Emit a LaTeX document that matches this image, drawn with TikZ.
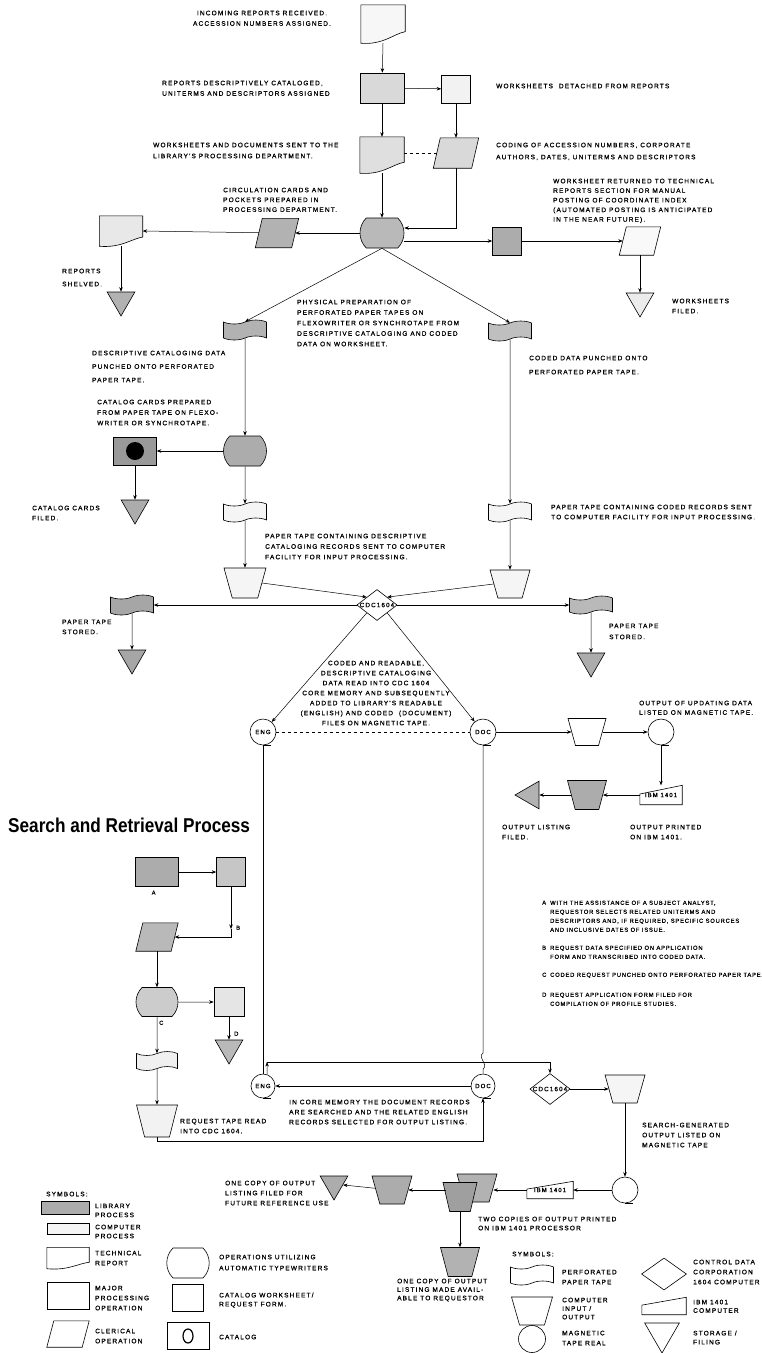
\documentclass[tikz,border=0pt]{standalone}
\usepackage{fontspec}
\newfontfamily\chartfont{Liberation Sans}[LetterSpace=18, FakeBold=0.8]
\newfontfamily\notefont{Liberation Sans}[LetterSpace=14, FakeBold=0.8]
\newfontfamily\headfont{Liberation Sans}[FakeStretch=0.86]
\usetikzlibrary{arrows.meta,calc,shapes.geometric,shapes.symbols,shapes.misc}

\tikzset{
  lbl/.style={font=\chartfont\fontsize{6.5}{#1}\selectfont, align=left, anchor=north west, inner sep=0pt},
  lbl/.default=10.5,
  note/.style={font=\notefont\fontsize{5.8}{9}\selectfont, align=left, anchor=north west, inner sep=0pt},
  block/.style={draw, line width=0.6pt, inner sep=0pt, minimum width=44pt, minimum height=30pt},
  sheet/.style={block, minimum width=29pt, minimum height=28pt},
  typer/.style={block, rounded rectangle, rounded rectangle arc length=90},
  ptape/.style={block, tape, tape bend height=4pt, minimum width=43pt, minimum height=20pt},
  inout/.style={block, inner sep=1pt, trapezium, trapezium left angle=72, trapezium right angle=72, shape border rotate=180, trapezium stretches=true, minimum width=40pt, minimum height=28pt},
  store/.style={draw, line width=0.6pt, regular polygon, regular polygon sides=3, regular polygon rotate=180, minimum size=32pt, inner sep=0pt},
  reel/.style={draw, line width=0.6pt, circle, minimum size=26pt, inner sep=0pt, font=\chartfont\fontsize{6}{6}\selectfont},
  cdc/.style={draw, line width=0.6pt, diamond, aspect=1.3, inner sep=0pt, fill=white, font=\chartfont\fontsize{6.3}{6}\selectfont},
  ghost/.style={inner sep=0pt, minimum width=44pt, minimum height=36pt},
  clerical/.style={ghost, minimum width=37pt, minimum height=30pt},
  ibmbox/.style={ghost, minimum width=42pt, minimum height=19pt, font=\chartfont\fontsize{6}{6}\selectfont},
  flow/.style={line width=0.5pt, -{Stealth[length=4.5pt,width=3.5pt]}},
  link/.style={line width=0.5pt},
}

% outline of a technical report, drawn round a ghost node
\newcommand\docshape[2]{%
  \filldraw[line width=0.6pt, fill=#2] (#1.north west) -- (#1.north east)
    -- ($(#1.south east)!0.3!(#1.north east)$)
    .. controls ($(#1.south)!0.5!(#1.east)$) and ($(#1.south)+(0pt,-2pt)$) .. (#1.south west) -- cycle;}
% clerical operation: parallelogram through the ghost's east and west anchors
\newcommand\clershape[2]{%
  \filldraw[line width=0.6pt, fill=#2] ($(#1.south west)+(-3.5pt,0pt)$) -- ($(#1.south east)+(-3.5pt,0pt)$)
    -- ($(#1.north east)+(3.5pt,0pt)$) -- ($(#1.north west)+(3.5pt,0pt)$) -- cycle;}
% outline of the IBM 1401 symbol
\newcommand\ibmshape[1]{%
  \draw[line width=0.6pt] (#1.south west) -- (#1.south east) -- (#1.north east)
    -- ($(#1.south west)!0.55!(#1.north west)$) -- cycle;}

\begin{document}
\begin{tikzpicture}[x=1pt, y=-1pt]
\fill[white] (0,0) rectangle (762,1353);
\useasboundingbox (0,0) rectangle (762,1353);

% incoming reports
\node[ghost, minimum height=38pt] (rep0) at (383,24) {};
\docshape{rep0}{gray!6}
\node[block, fill=gray!30] (box1) at (382,88) {};
\node[sheet, fill=gray!10] (ws1) at (456,89) {};
\node[ghost] (rep1) at (382,155) {};
\docshape{rep1}{gray!25}
\node[clerical, minimum width=38pt] (para1) at (456,153) {};
\clershape{para1}{gray!30}
\node[typer, fill=gray!55] (hub) at (382,233) {};
\node[clerical, minimum width=36pt, minimum height=29pt] (para2) at (277,233) {};
\clershape{para2}{gray!60}
\node[ghost, minimum width=43pt, minimum height=30pt] (rep2) at (121,231) {};
\docshape{rep2}{gray!18}
\node[store, fill=gray!60] (tri1) at (121,300) {};
\node[sheet, fill=gray!65] (box2) at (507,241) {};
\node[clerical, minimum width=34pt, minimum height=28pt] (para3) at (640,241) {};
\clershape{para3}{gray!5}
\node[store, fill=gray!15] (tri2) at (640,301) {};

% paper tapes and computer input
\node[ptape, fill=gray!60] (tape1) at (245,330) {};
\node[ptape, fill=gray!50] (tape2) at (510,331) {};
\node[typer, fill=gray!65, minimum width=43pt] (cyl1) at (245,451) {};
\node[block, fill=gray!80, minimum width=43pt, minimum height=28pt,
  path picture={\fill[black] (path picture bounding box.center) circle (9pt);}] (cat) at (135,451) {};
\node[store, fill=gray!65] (tri3) at (135,508) {};
\node[ptape, fill=gray!8] (tape3) at (245,512) {};
\node[ptape, fill=gray!8] (tape4) at (510,512) {};
\node[inout, fill=gray!8, minimum width=42pt, minimum height=30pt] (io1) at (245,583) {};
\node[inout, fill=gray!8] (io2) at (510,584) {};
\node[cdc] (cdc1) at (377,605) {CDC1604};
\node[ptape, fill=gray!70] (tape5) at (132,605) {};
\node[ptape, fill=gray!55, minimum height=18pt] (tape6) at (591,605) {};
\node[store, fill=gray!70] (tri4) at (132,658) {};
\node[store, fill=gray!65] (tri5) at (591,661) {};

% magnetic tape files and updating output
\node[reel] (eng1) at (263,732) {ENG};
\node[reel] (doc1) at (483,732) {DOC};
\node[inout, minimum width=38pt, minimum height=27pt] (io3) at (587,732) {};
\node[reel] (mt1) at (661,732) {};
\node[ibmbox] (ibm1) at (661,795) {IBM 1401};
\ibmshape{ibm1}
\node[inout, fill=gray!65, minimum width=39pt, minimum height=29pt] (io4) at (587,795) {};
\node[store, regular polygon rotate=90, fill=gray!60] (tri6) at (531,795) {};

% search and retrieval
\node[anchor=west, inner sep=0pt, font=\headfont\bfseries\fontsize{20}{20}\selectfont] (title) at (8,825) {Search and Retrieval Process};
\node[block, fill=gray!65, minimum width=43pt, minimum height=29pt] (boxA) at (157,872) {};
\node[sheet, fill=gray!45, minimum height=29pt] (wsB) at (231,872) {};
\node[clerical, minimum width=35pt, minimum height=28pt] (para4) at (157,937) {};
\clershape{para4}{gray!55}
\node[typer, fill=gray!40, minimum width=42pt, minimum height=29pt] (cyl2) at (157,1002) {};
\node[sheet, fill=gray!20, minimum width=30pt, minimum height=29pt] (wsD) at (229,1002) {};
\node[ptape, fill=gray!12, minimum width=41pt, minimum height=19pt] (tape7) at (157,1061) {};
\node[store, fill=gray!55] (tri7) at (229,1048) {};
\node[inout, fill=gray!10, minimum width=41pt, minimum height=32pt] (io5) at (157,1121) {};
\node[reel, minimum size=24pt] (eng2) at (263,1086) {ENG};
\node[reel, minimum size=24pt] (doc2) at (483,1086) {DOC};
\node[cdc] (cdc2) at (550,1089) {CDC1604};
\node[inout, fill=gray!8] (io6) at (625,1089) {};
\node[reel] (mt2) at (625,1190) {};
\node[ibmbox, minimum width=46pt, minimum height=17pt] (ibm2) at (550,1190) {IBM 1401};
\ibmshape{ibm2}
\node[inout, fill=gray!60] (io7b) at (477,1188) {};
\node[inout, fill=gray!75, minimum width=34pt, minimum height=29pt] (io7a) at (460,1197) {};
\node[inout, fill=gray!65] (io8) at (392,1190) {};
\node[store, fill=gray!65] (tri8) at (334,1184) {};
\node[inout, fill=gray!60, minimum width=39pt, minimum height=29pt] (io9) at (460,1262) {};

\coordinate (bturn) at (231,929);
\coordinate (jn) at (267,1062);
\coordinate (wigA) at (483,1053);
\coordinate (wigB) at (483,1069);

% tape reel tails
\foreach \n in {eng1,doc1,mt1,eng2,doc2,mt2}
  \draw[line width=0.6pt] (\n.south) -- ++(8pt,0pt);

% connectors, top half
\draw[flow] (rep0.south) -- (box1);
\draw[flow] (box1) -- (ws1);
\draw[flow] (box1) -- (rep1);
\draw[flow] (ws1) -- (para1);
\draw[link, dashed] (rep1.east |- para1.west) -- (para1.west);
\draw[flow] (rep1.south) -- (hub);
\draw[flow] (para1.south) |- ($(hub.east)+(0,-5)$);
\draw[flow] (hub) -- (para2);
\draw[flow] (para2) -- (rep2.east);
\draw[flow] (rep2.south) -- (tri1);
\draw[flow] (hub.east |- box2) -- (box2);
\draw[flow] (box2) -- (para3);
\draw[flow] (para3) -- (tri2);
\draw[flow] (hub.south) -- (tape1.north);
\draw[flow] (hub.south) -- (tape2.north);
\draw[flow] (tape1) -- (cyl1);
\draw[flow] (cyl1) -- (cat);
\draw[flow] (cat) -- (tri3);
\draw[flow] (cyl1) -- (tape3);
\draw[flow] (tape3) -- (io1);
\draw[flow] (tape2) -- (tape4);
\draw[flow] (tape4) -- (io2);
\draw[flow] (io1.east) -- (cdc1.north west);
\draw[flow] (io2.west) -- (cdc1.north east);
\draw[flow] (cdc1) -- (tape5);
\draw[flow] (cdc1) -- (tape6);
\draw[flow] (tape5) -- (tri4);
\draw[flow] (tape6) -- (tri5);
\draw[flow] (cdc1.south west) -- (eng1);
\draw[flow] (cdc1.south east) -- (doc1);
\draw[link, dashed] (eng1) -- (doc1);
\draw[flow] (doc1) -- (io3);
\draw[flow] (io3) -- (mt1);
\draw[flow] (mt1) -- (ibm1);
\draw[flow] (ibm1) -- (io4);
\draw[flow] (io4) -- (tri6);

% connectors, search and retrieval
\draw[flow] (boxA) -- (wsB);
\draw[flow] (wsB) -- (bturn);
\draw[flow] (bturn) |- (para4);
\draw[flow] (para4) -- (cyl2);
\draw[flow] (cyl2) -- (wsD);
\draw[flow] (cyl2) -- (tape7);
\draw[flow] (wsD) -- (tri7);
\draw[flow] (tape7) -- (io5);
\draw[link] (eng1) -- (eng2);
\draw[link] (doc1) -- (wigA) .. controls (477,1057) and (489,1065) .. (wigB) -- (doc2);
\draw[flow] (eng2.70) -- (jn);
\draw[flow] (jn) -| (cdc2.north);
\draw[flow] (doc2) -- (eng2);
\draw[flow] (io5.south) -- ++(0,4) -| (doc2.south);
\draw[flow] (cdc2) -- (io6);
\draw[flow] (io6) -- (mt2);
\draw[flow] (mt2) -- (ibm2);
\draw[flow] (ibm2) -- (io7b.east |- ibm2);
\draw[flow] (io7a.west |- io8) -- (io8);
\draw[flow] (io8) -- (tri8);
\draw[flow] (io7a) -- (io9);

% labels
\node[lbl, align=center, anchor=north] (tIn) at (262,10.5) {INCOMING REPORTS RECEIVED.\\ACCESSION NUMBERS ASSIGNED.};
\node[lbl] (tBox1) at (162,80.5) {REPORTS DESCRIPTIVELY CATALOGED,\\UNITERMS AND DESCRIPTORS ASSIGNED};
\node[lbl] (tWs1) at (496,83.5) {WORKSHEETS\ \ DETACHED FROM REPORTS};
\node[lbl=11] (tRep1) at (153,142.5) {WORKSHEETS AND DOCUMENTS SENT TO THE\\LIBRARY'S PROCESSING DEPARTMENT.};
\node[lbl=12] (tPara1) at (496,142.5) {CODING OF ACCESSION NUMBERS, CORPORATE\\AUTHORS, DATES, UNITERMS AND DESCRIPTORS};
\node[lbl=9.8] (tCirc) at (223,187.5) {CIRCULATION CARDS AND\\POCKETS PREPARED IN\\PROCESSING DEPARTMENT.};
\node[lbl=9.6] (tPara3) at (553,178.5) {WORKSHEET RETURNED TO TECHNICAL\\REPORTS SECTION FOR MANUAL\\POSTING OF COORDINATE INDEX\\(AUTOMATED POSTING IS ANTICIPATED\\IN THE NEAR FUTURE).};
\node[lbl=13] (tRep2) at (62,268.5) {REPORTS\\SHELVED.};
\node[lbl=10] (tTri2) at (672,298.5) {WORKSHEETS\\FILED.};
\node[lbl] (tPhys) at (297,299.5) {PHYSICAL PREPARATION OF\\PERFORATED PAPER TAPES ON\\FLEXOWRITER OR SYNCHROTAPE FROM\\DESCRIPTIVE CATALOGING AND CODED\\DATA ON WORKSHEET.};
\node[lbl=13.5] (tTape1) at (92,350.5) {DESCRIPTIVE CATALOGING DATA\\PUNCHED ONTO PERFORATED\\PAPER TAPE.};
\node[lbl=14] (tTape2) at (529,355.5) {CODED DATA PUNCHED ONTO\\PERFORATED PAPER TAPE.};
\node[lbl] (tCyl1) at (97,399.5) {CATALOG CARDS PREPARED\\FROM PAPER TAPE ON FLEXO-\\WRITER OR SYNCHROTAPE.};
\node[lbl=10] (tTri3) at (32,505.5) {CATALOG CARDS\\FILED.};
\node[lbl=10] (tTape4) at (551,504.5) {PAPER TAPE CONTAINING CODED RECORDS SENT\\TO COMPUTER FACILITY FOR INPUT PROCESSING.};
\node[lbl] (tTape3) at (265,533.5) {PAPER TAPE CONTAINING DESCRIPTIVE\\CATALOGING RECORDS SENT TO COMPUTER\\FACILITY FOR INPUT PROCESSING.};
\node[lbl=10] (tTape5) at (62,619.5) {PAPER TAPE\\STORED.};
\node[lbl=11] (tTape6) at (609,623.5) {PAPER TAPE\\STORED.};
\node[lbl=10, align=center, anchor=north] (tCdc) at (376,660.5) {CODED AND READABLE,\\DESCRIPTIVE CATALOGING\\DATA READ INTO CDC 1604\\CORE MEMORY AND SUBSEQUENTLY\\ADDED TO LIBRARY'S READABLE\\(ENGLISH) AND CODED\ \ (DOCUMENT)\\FILES ON MAGNETIC TAPE.};
\node[lbl=9.5] (tMt1) at (639,700.5) {OUTPUT OF UPDATING DATA\\LISTED ON MAGNETIC TAPE.};
\node[lbl=10] (tTri6) at (502,824.5) {OUTPUT LISTING\\FILED.};
\node[lbl=10] (tIbm1) at (630,824.5) {OUTPUT PRINTED\\ON IBM 1401.};
\node[note] (tA) at (151.5,890.5) {A};
\node[note] (tB) at (236,925.5) {B};
\node[note] (tC) at (159,1020.5) {C};
\node[note] (tD) at (234,1031.5) {D};
\node[note] (nA) at (542,900.5) {A};
\node[note] (nAtext) at (550,900.5) {WITH THE ASSISTANCE OF A SUBJECT ANALYST,\\REQUESTOR SELECTS RELATED UNITERMS AND\\DESCRIPTORS AND, IF REQUIRED, SPECIFIC SOURCES\\AND INCLUSIVE DATES OF ISSUE.};
\node[note] (nB) at (542,945.5) {B};
\node[note] (nBtext) at (550,945.5) {REQUEST DATA SPECIFIED ON APPLICATION\\FORM AND TRANSCRIBED INTO CODED DATA.};
\node[note] (nC) at (542,972.5) {C};
\node[note] (nCtext) at (550,972.5) {CODED REQUEST PUNCHED ONTO PERFORATED PAPER TAPE.};
\node[note] (nD) at (542,992.5) {D};
\node[note] (nDtext) at (550,992.5) {REQUEST APPLICATION FORM FILED FOR\\COMPILATION OF PROFILE STUDIES.};
\node[lbl=10] (tIo5) at (180,1118.5) {REQUEST TAPE READ\\INTO CDC 1604.};
\node[lbl=10] (tCore) at (289,1099.5) {IN CORE MEMORY THE DOCUMENT RECORDS\\ARE SEARCHED AND THE RELATED ENGLISH\\RECORDS SELECTED FOR OUTPUT LISTING.};
\node[lbl=10] (tIo6) at (642,1122.5) {SEARCH-GENERATED\\OUTPUT LISTED ON\\MAGNETIC TAPE};
\node[lbl=10] (tTri8) at (225,1180.5) {ONE COPY OF OUTPUT\\LISTING FILED FOR\\FUTURE REFERENCE USE};
\node[lbl=9] (tIo7) at (478,1216.5) {TWO COPIES OF OUTPUT PRINTED\\ON IBM 1401 PROCESSOR};
\node[lbl=8.5] (tIo9) at (397,1278.5) {ONE COPY OF OUTPUT\\LISTING MADE AVAIL-\\ABLE TO REQUESTOR};

% symbols, left
\node[lbl] (symL) at (46,1191.5) {SYMBOLS:};
\node[block, fill=gray!65, minimum width=48pt, minimum height=13pt] (lgLib) at (65,1208) {};
\node[block, fill=gray!8, minimum width=42pt, minimum height=11pt] (lgComp) at (68,1229) {};
\node[ghost, minimum width=42pt, minimum height=21pt] (lgRep) at (68,1258) {};
\docshape{lgRep}{white}
\node[block, minimum width=42pt, minimum height=27pt] (lgMajor) at (68,1296) {};
\node[clerical, minimum width=35pt, minimum height=26pt] (lgCler) at (68,1334) {};
\clershape{lgCler}{white}
\node[typer, minimum width=42pt, minimum height=30pt] (lgType) at (188,1263) {};
\node[sheet, minimum width=31pt, minimum height=27pt] (lgSheet) at (188,1298) {};
\node[block, minimum width=42pt, minimum height=27pt,
  path picture={\draw[line width=1.2pt] (path picture bounding box.center) ellipse (5pt and 7pt);}] (lgCat) at (188,1336) {};
\node[lbl=9] at (95,1203.5) {LIBRARY\\PROCESS};
\node[lbl=9] at (95,1224.5) {COMPUTER\\PROCESS};
\node[lbl=10] at (95,1250.5) {TECHNICAL\\REPORT};
\node[lbl=10] at (95,1285.5) {MAJOR\\PROCESSING\\OPERATION};
\node[lbl=10] at (95,1328.5) {CLERICAL\\OPERATION};
\node[lbl=11] at (219,1254.5) {OPERATIONS UTILIZING\\AUTOMATIC TYPEWRITERS};
\node[lbl=9] at (219,1292.5) {CATALOG WORKSHEET/\\REQUEST FORM.};
\node[lbl] at (219,1334.5) {CATALOG};

% symbols, right
\node[lbl] (symR) at (512,1251.5) {SYMBOLS:};
\node[ptape] (lgTape) at (532,1275) {};
\node[inout, minimum width=41pt, minimum height=28pt] (lgIo) at (532,1311) {};
\node[reel, minimum size=27pt] (lgReel) at (532,1339) {};
\draw[line width=0.6pt] (lgReel.south) -- ++(8pt,0pt);
\node[draw, line width=0.6pt, diamond, minimum width=45pt, minimum height=32pt, inner sep=0pt] (lgCdc) at (664,1274) {};
\node[ibmbox, minimum width=44pt, minimum height=17pt] (lgIbm) at (664,1306) {};
\ibmshape{lgIbm}
\node[store, minimum size=40pt] (lgStore) at (662,1333) {};
\node[lbl=10] at (562,1269.5) {PERFORATED\\PAPER TAPE};
\node[lbl=8.5] at (562,1297.5) {COMPUTER\\INPUT /\\OUTPUT};
\node[lbl=10] at (562,1330.5) {MAGNETIC\\TAPE REAL};
\node[lbl=10] at (693,1259.5) {CONTROL DATA\\CORPORATION\\1604 COMPUTER};
\node[lbl=8.5] at (693,1299.5) {IBM 1401\\COMPUTER};
\node[lbl=9] at (693,1330.5) {STORAGE /\\FILING};
\end{tikzpicture}
\end{document}
